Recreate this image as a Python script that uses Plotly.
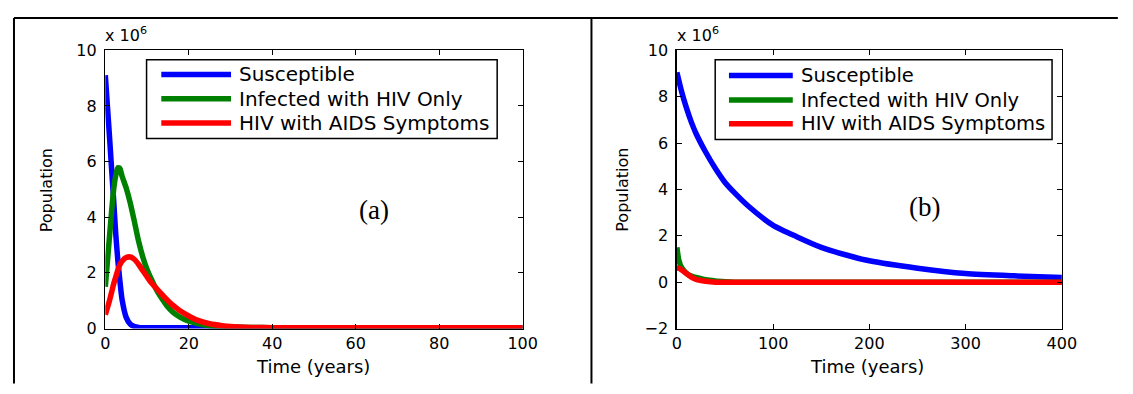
import plotly.graph_objects as go

# ---------------- data (population in millions, axis shows "x 10^6") ----------------
t_a = [0, 0.5, 1, 1.5, 2, 2.5, 3, 3.5, 4, 5, 6, 7, 8, 9, 10, 11, 12, 13, 14, 15,
       16, 17, 18, 20, 22, 25, 28, 30, 35, 40, 50, 60, 80, 100]
susceptible_a = [9.1, 8.0, 6.9, 5.75, 4.6, 3.4, 2.45, 1.7, 1.05, 0.4, 0.15, 0.07, 0.04, 0.03, 0.03, 0.03, 0.03, 0.03, 0.03, 0.03,
                 0.03, 0.03, 0.03, 0.03, 0.03, 0.03, 0.03, 0.03, 0.03, 0.03, 0.03, 0.03, 0.03, 0.03]
hiv_only_a = [1.5, 2.4, 3.3, 4.2, 5.0, 5.5, 5.78, 5.75, 5.48, 5.05, 4.5, 3.82, 3.12, 2.56, 2.12, 1.78, 1.47, 1.2, 0.98, 0.77,
              0.61, 0.5, 0.4, 0.26, 0.18, 0.1, 0.06, 0.05, 0.04, 0.03, 0.03, 0.03, 0.03, 0.03]
aids_a = [0.5, 0.75, 1.0, 1.3, 1.6, 1.85, 2.1, 2.3, 2.42, 2.55, 2.57, 2.48, 2.3, 2.08, 1.86, 1.65, 1.48, 1.32, 1.15, 1.0,
          0.86, 0.74, 0.63, 0.45, 0.3, 0.17, 0.1, 0.07, 0.04, 0.03, 0.03, 0.03, 0.03, 0.03]

t_b = [0, 2, 5, 10, 15, 20, 30, 40, 50, 60, 75, 100, 125, 150, 175, 200, 250, 300, 350, 400]
susceptible_b = [9.05, 8.7, 8.2, 7.5, 6.9, 6.4, 5.6, 4.9, 4.3, 3.85, 3.25, 2.45, 1.95, 1.5, 1.18, 0.92, 0.6, 0.37, 0.27, 0.2]
hiv_only_b = [1.5, 0.95, 0.62, 0.38, 0.26, 0.2, 0.1, 0.05, 0.02, 0, 0, 0, 0, 0, 0, 0, 0, 0, 0, 0]
aids_b = [0.6, 0.6, 0.52, 0.37, 0.22, 0.12, 0.04, 0.0, 0, 0, 0, 0, 0, 0, 0, 0, 0, 0, 0, 0]

series_names = ["Susceptible", "Infected with HIV Only", "HIV with AIDS Symptoms"]
series_colors = ["#0000ff", "#008000", "#ff0000"]
x_ticks_a = [0, 20, 40, 60, 80, 100]
x_ticks_b = [0, 100, 200, 300, 400]
y_ticks_a = [0, 2, 4, 6, 8, 10]
y_ticks_b = [-2, 0, 2, 4, 6, 8, 10]

# ---------------- layout helpers ----------------
# The page keeps the browser's default 8px body margin, so the figure is
# 16px smaller than the window and all page coordinates are shifted by 8px.
PAGE_W, PAGE_H = 1133, 394
OFF = 8
W, H = PAGE_W - 2 * OFF, PAGE_H - 2 * OFF


def px(x):
    return (x - OFF) / W


def py(y):
    return 1 - (y - OFF) / H


SANS = "DejaVu Sans"
LW = 5.5

fig = go.Figure()
for ys, name, col in zip([susceptible_a, hiv_only_a, aids_a], series_names, series_colors):
    fig.add_trace(go.Scatter(x=t_a, y=ys, mode="lines", name=name, showlegend=False, hoverinfo="skip",
                             line=dict(color=col, width=LW, shape="spline", smoothing=0.6),
                             xaxis="x", yaxis="y"))
for ys, name, col in zip([susceptible_b, hiv_only_b, aids_b], series_names, series_colors):
    fig.add_trace(go.Scatter(x=t_b, y=ys, mode="lines", name=name, showlegend=False, hoverinfo="skip",
                             line=dict(color=col, width=LW, shape="spline", smoothing=0.6),
                             xaxis="x2", yaxis="y2"))

axis_style = dict(showline=True, linecolor="black", linewidth=1.5, mirror="ticks",
                  ticks="inside", ticklen=5, tickwidth=1, tickcolor="black",
                  showgrid=False, zeroline=False,
                  tickfont=dict(family=SANS, size=16, color="black"))

fig.update_layout(
    width=W, height=H,
    margin=dict(l=0, r=0, t=0, b=0),
    paper_bgcolor="white", plot_bgcolor="white",
    showlegend=False,
    xaxis=dict(domain=[px(102), px(527)], range=[0, 100], tickvals=x_ticks_a, anchor="y", **axis_style),
    yaxis=dict(domain=[py(336), py(43)], range=[0, 10], tickvals=y_ticks_a, anchor="x",
               ticklabelstandoff=4, **axis_style),
    xaxis2=dict(domain=[px(684), px(1076)], range=[0, 400], tickvals=x_ticks_b, anchor="y2", **axis_style),
    yaxis2=dict(domain=[py(336), py(43)], range=[-2, 10], tickvals=y_ticks_b, anchor="x2",
                ticklabelstandoff=4, **axis_style),
)

shapes = []
annotations = []

# outer frame lines (page coordinates)
for (x0, y0, x1, y1) in [(9, 9, 1133, 9), (9, 9, 9, 394), (597, 9, 597, 394)]:
    shapes.append(dict(type="line", xref="paper", yref="paper", x0=px(x0), y0=py(y0), x1=px(x1), y1=py(y1),
                       line=dict(color="black", width=2)))


def add_legend(bx0, bx1, by0, by1, sx0, sx1, tx, rows, fsize):
    shapes.append(dict(type="rect", xref="paper", yref="paper", x0=px(bx0), x1=px(bx1), y0=py(by1), y1=py(by0),
                       line=dict(color="black", width=1.5), fillcolor="white", layer="above"))
    for name, col, ry in zip(series_names, series_colors, rows):
        shapes.append(dict(type="line", xref="paper", yref="paper", x0=px(sx0), x1=px(sx1), y0=py(ry), y1=py(ry),
                           line=dict(color=col, width=LW)))
        annotations.append(dict(xref="paper", yref="paper", x=px(tx), y=py(ry), text=name, showarrow=False,
                                xanchor="left", yanchor="middle",
                                font=dict(family=SANS, size=fsize, color="black")))


add_legend(144, 501, 53, 136, 159, 230, 236, [68.5, 94, 119.5], 20)
add_legend(723, 1066, 53, 137, 737, 802, 808, [69.5, 95.5, 120.5], 19.5)

# axis titles, multipliers, panel labels
for cx, ty, px_pop, label, lx, ly in [(313, 376, 42, "(a)", 376, 211), (878, 376, 629, "(b)", 936, 208)]:
    annotations.append(dict(xref="paper", yref="paper", x=px(cx), y=py(ty), text="Time (years)", showarrow=False,
                            xanchor="center", yanchor="middle", font=dict(family=SANS, size=18, color="black")))
    annotations.append(dict(xref="paper", yref="paper", x=px(px_pop), y=py(190), text="Population", showarrow=False,
                            textangle=-90, xanchor="center", yanchor="middle",
                            font=dict(family=SANS, size=16, color="black")))
    annotations.append(dict(xref="paper", yref="paper", x=px(lx), y=py(ly), text=label, showarrow=False,
                            xanchor="center", yanchor="middle",
                            font=dict(family="Liberation Serif", size=27, color="black")))

for ax_left in (102, 684):
    annotations.append(dict(xref="paper", yref="paper", x=px(ax_left - 2), y=py(26), text="x 10<sup>6</sup>",
                            showarrow=False, xanchor="left", yanchor="middle",
                            font=dict(family=SANS, size=16, color="black")))

fig.update_layout(shapes=shapes, annotations=annotations)
fig.write_html("out.html", config={"displayModeBar": False, "staticPlot": True})
